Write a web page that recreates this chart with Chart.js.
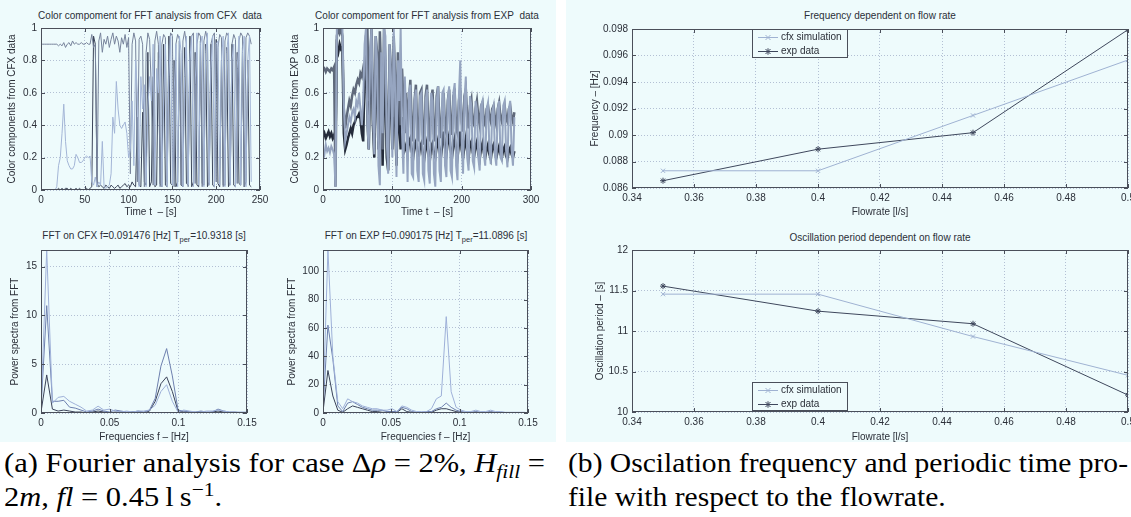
<!DOCTYPE html>
<html>
<head>
<meta charset="utf-8">
<script src="https://cdn.jsdelivr.net/npm/chart.js@4.4.0/dist/chart.umd.min.js"></script>
<style>
  body { margin:0; width:1131px; height:517px; overflow:hidden; background:#fff; position:relative;
         font-family:"Liberation Sans", Arial, sans-serif; }
  .panel { position:absolute; background:#eefbfc; }
  .plot { position:absolute; }
  .ttl { position:absolute; font-size:10px; line-height:12px; color:#2b2f38; white-space:nowrap; transform:translate(-50%, -50%); }
  .ttl sub { font-size:7.5px; vertical-align:-3px; line-height:0; }
  .cap { position:absolute; font-family:"Liberation Serif", Tinos, "Times New Roman", "Nimbus Roman", FreeSerif, "DejaVu Serif", serif;
         font-size:27px; line-height:34px; color:#000; white-space:nowrap; transform-origin:0 0; }
  .cap i { font-style:italic; }
  .cap sub { font-size:19px; vertical-align:-6px; line-height:0; }
  .cap sup { font-size:19px; vertical-align:10px; line-height:0; }
</style>
</head>
<body>
<div class="panel" style="left:0;top:0;width:556px;height:442px"></div>
<div class="panel" style="left:566px;top:0;width:565px;height:442px"></div>

<div class="ttl" style="left:150px;top:16px">Color compoment for FFT analysis from CFX&nbsp; data</div>
<div class="ttl" style="left:427px;top:16px">Color compoment for FFT analysis from EXP&nbsp; data</div>
<div class="ttl" style="left:144px;top:236px">FFT on CFX f=0.091476 [Hz] T<sub>per</sub>=10.9318 [s]</div>
<div class="ttl" style="left:426px;top:236px">FFT on EXP f=0.090175 [Hz] T<sub>per</sub>=11.0896 [s]</div>
<div class="ttl" style="left:880px;top:16px">Frequency dependent on flow rate</div>
<div class="ttl" style="left:880px;top:238px">Oscillation period dependent on flow rate</div>

<div class="cap capA" style="left:4px;top:446px">(a) Fourier analysis for case &Delta;<i>&rho;</i> = 2%, <i>H<sub>fill</sub></i> =</div>
<div class="cap capA2" style="left:4px;top:480px">2<i>m</i>, <i>fl</i> = 0.45&thinsp;l&thinsp;s<sup>&minus;1</sup>.</div>
<div class="cap capB" style="left:568px;top:446px">(b) Oscilation frequency and periodic time pro-</div>
<div class="cap capB2" style="left:568px;top:480px">file with respect to the flowrate.</div>

<script>
// ---- time signals, one sample every 2 s ----
const cfxDt = 2;
const cfxA = [
  0.90,0.90,0.90,0.90,0.90, 0.90,0.90,0.90,0.90,0.90, 0.89,0.90,0.89,0.91,0.88, 0.90,0.91,0.89,0.92,0.90,
  0.91,0.90,0.90,0.91,0.90, 0.90,0.91,0.90,0.90,0.96, 0.88,0.90,0.02,0.92,0.97, 0.85,0.93,0.90,0.95,0.88,
  0.93,0.97,0.90,0.95,0.92, 0.85,0.94,0.90,0.96,0.88, 0.94,0.10,0.90,0.97,0.92, 0.05,0.93,0.95,0.90,0.02,
  0.85,0.97,0.93,0.60,0.03, 0.92,0.98,0.90,0.02,0.90, 0.96,0.94,0.05,0.88,0.97, 0.95,0.02,0.90,0.96,0.93,
  0.03,0.92,0.98,0.90,0.02, 0.85,0.95,0.97,0.04,0.90, 0.97,0.95,0.02,0.92,0.98, 0.93,0.03,0.90,0.95,0.97,
  0.05,0.88,0.96,0.94,0.02, 0.92,0.97,0.95,0.03,0.90, 0.96,0.93,0.04,0.92,0.97, 0.95,0.02,0.94,0.97,0.95,
  0.90
];
const cfxB = [
  0,0,0,0,0, 0,0,0,0,0.02, 0.15,0.20,0.35,0.53,0.30, 0.18,0.15,0.13,0.13,0.15,
  0.22,0.20,0.17,0.17,0.18, 0.20,0.21,0.20,0.21,0.05, 0.03,0.08,0.02,0.05,0.03, 0.30,0.02,0.01,0.02,0.03,
  0.10,0.45,0.35,0.67,0.50, 0.40,0.38,0.40,0.42,0.35, 0.20,0.25,0.55,0.15,0.80, 0.60,0.02,0.70,0.50,0.65,
  0.02,0.50,0.70,0.55,0.90, 0.03,0.75,0.60,0.95,0.02, 0.55,0.90,0.02,0.70,0.95, 0.03,0.60,0.90,0.02,0.95,
  0.85,0.02,0.70,0.95,0.03, 0.80,0.95,0.02,0.65,0.97, 0.03,0.90,0.95,0.02,0.85, 0.97,0.03,0.75,0.95,0.02,
  0.90,0.92,0.03,0.80,0.95, 0.02,0.85,0.97,0.03,0.80, 0.90,0.02,0.75,0.95,0.03, 0.85,0.95,0.02,0.80,0.95,
  0.05
];
const cfxC = [
  0,0,0,0,0, 0,0,0,0,0, 0.01,0,0.01,0,0.01, 0.01,0,0.01,0,0,
  0.01,0,0.01,0,0, 0,0.01,0,0.01,0.02, 0.95,0.90,0.04,0.02,0.03, 0.02,0.01,0.03,0.02,0.01,
  0.03,0.02,0.01,0.02,0.03, 0.01,0.02,0.03,0.04,0.02, 0.03,0.02,0.05,0.03,0.02, 0.45,0.03,0.02,0.48,0.05,
  0.03,0.85,0.02,0.05,0.70, 0.02,0.03,0.85,0.04,0.02, 0.90,0.03,0.02,0.95,0.04, 0.03,0.80,0.02,0.05,0.92,
  0.03,0.02,0.88,0.04,0.03, 0.95,0.02,0.05,0.85,0.03, 0.02,0.92,0.04,0.03,0.90, 0.02,0.05,0.90,0.03,0.02,
  0.93,0.04,0.02,0.80,0.03, 0.03,0.88,0.02,0.05,0.90, 0.03,0.02,0.85,0.04,0.03, 0.88,0.02,0.05,0.80,0.03,
  0.02
];

const expDt = 2;
const expM = [
  0.74,0.75,0.73,0.75,0.74, 0.73,0.75,0.74,0.76,0.02, 0.95,1.00,0.97,1.00,0.95, 0.50,0.38,0.45,0.50,0.55,
  0.52,0.58,0.62,0.60,0.65, 0.68,0.66,0.72,0.70,0.75, 0.72,0.95,1.00,0.55,0.80, 1.00,0.60,0.35,0.95,0.85,
  0.30,0.98,0.70,0.25,1.00, 0.80,0.40,0.20,0.90,0.75, 0.45,0.95,0.70,0.25,0.85, 0.60,0.40,0.75,0.55,0.35,
  0.60,0.35,0.55,0.68,0.40, 0.30,0.55,0.65,0.35,0.30, 0.60,0.62,0.35,0.28,0.58, 0.65,0.38,0.30,0.55,0.62,
  0.35,0.30,0.58,0.64,0.40, 0.32,0.52,0.60,0.38,0.35, 0.55,0.62,0.40,0.34,0.58, 0.60,0.38,0.35,0.55,0.62,
  0.42,0.36,0.58,0.62,0.45, 0.38,0.52,0.56,0.42,0.40, 0.50,0.55,0.45,0.40,0.52, 0.54,0.42,0.40,0.50,0.52,
  0.45,0.42,0.50,0.52,0.44, 0.40,0.50,0.54,0.45,0.42, 0.48,0.52,0.44,0.42,0.50, 0.52,0.45,0.42,0.48
];
const expD = [
  0.33,0.35,0.32,0.34,0.36, 0.33,0.35,0.32,0.34,0.30, 0.88,0.85,0.90,0.87,0.88, 0.35,0.25,0.28,0.32,0.35,
  0.38,0.35,0.40,0.42,0.45, 0.45,0.47,0.44,0.35,0.30, 0.75,0.85,0.45,0.25,0.70, 0.80,0.40,0.20,0.75,0.65,
  0.25,0.80,0.55,0.15,0.75, 0.60,0.20,0.12,0.70,0.55, 0.25,0.65,0.45,0.15,0.55, 0.40,0.25,0.45,0.30,0.25,
  0.28,0.22,0.30,0.32,0.24, 0.20,0.28,0.30,0.22,0.20, 0.27,0.29,0.22,0.19,0.26, 0.30,0.22,0.18,0.27,0.29,
  0.22,0.20,0.27,0.31,0.24, 0.20,0.28,0.36,0.26,0.22, 0.30,0.34,0.25,0.20,0.28, 0.32,0.24,0.20,0.28,0.36,
  0.25,0.20,0.27,0.32,0.24, 0.20,0.28,0.30,0.23,0.21, 0.27,0.30,0.22,0.19,0.26, 0.29,0.23,0.20,0.25,0.28,
  0.22,0.19,0.26,0.28,0.23, 0.20,0.24,0.27,0.22,0.20, 0.25,0.27,0.21,0.19,0.24, 0.26,0.22,0.20,0.24
];
const expL = [
  0.25,0.22,0.28,0.24,0.26, 0.23,0.27,0.25,0.22,0.02, 1.00,1.00,1.00,1.00,1.00, 0.55,0.30,0.35,0.40,0.45,
  0.42,0.48,0.50,0.45,0.55, 0.52,0.60,0.50,0.40,0.55, 0.90,1.00,0.40,0.25,0.85, 1.00,0.45,0.22,0.95,0.80,
  0.15,0.03,0.85,0.35,1.00, 0.95,0.30,0.10,0.90,0.70, 0.20,1.00,0.60,0.08,0.80, 0.55,1.00,0.35,0.10,0.70,
  0.45,0.05,0.60,0.65,0.10, 0.08,0.55,0.62,0.12,0.05, 0.58,0.60,0.10,0.06,0.55, 0.62,0.12,0.04,0.60,0.55,
  0.10,0.02,0.55,0.64,0.12, 0.05,0.60,0.62,0.15,0.08, 0.55,0.64,0.12,0.08,0.60, 0.66,0.15,0.06,0.58,0.80,
  0.30,0.10,0.55,0.70,0.20, 0.12,0.58,0.52,0.18,0.14, 0.55,0.50,0.20,0.12,0.52, 0.55,0.22,0.15,0.50,0.54,
  0.25,0.16,0.48,0.52,0.22, 0.15,0.50,0.55,0.20,0.18, 0.52,0.55,0.25,0.14,0.50, 0.55,0.25,0.15,0.45
];

// ---- power spectra, one bin every df Hz ----
const fftCfxDf = 0.004158;
const fftCfx1 = [0.3,16.7,1.0,1.6,1.7,1.2,0.9,0.6,0.2,0.3,0.7,0.3,0.4,0.2,0.1,0.2,0.1,0.2,0.2,0.3,0.8,2.2,2.9,1.2,0.1,0.3,0.2,0.1,0.1,0.2,0.2,0.3,0.2,0.1,0.1,0.1,0.1];
const fftCfx2 = [0.5,11.0,1.2,1.2,1.3,0.6,0.5,0.3,0.1,0.2,0.4,0.2,0.1,0.3,0.2,0.1,0.1,0.2,0.1,0.3,1.5,4.8,6.6,3.8,0.3,0.2,0.1,0.1,0.2,0.1,0.1,0.4,0.2,0.1,0.1,0.0,0.0];
const fftCfx3 = [0.1,3.9,0.4,0.2,0.3,0.2,0.1,0.1,0.0,0.1,0.2,0.1,0.0,0.1,0.1,0.0,0.1,0.1,0.0,0.2,1.2,3.0,3.7,2.2,0.2,0.1,0.1,0.0,0.1,0.0,0.1,0.2,0.1,0.0,0.0,0.0,0.0];

const fftExpDf = 0.003607;
const fftExp1 = [5,115,40,8,3,10,8,7,5,4,3,3,2,2,3,1,5,4,2,1,1,1,3,10,12,68,15,4,2,1,1,2,1,1,2,1,1,0.5,0.5,0.5,0.5,0.5];
const fftExp2 = [3,62,38,5,1,7,8,6,4,3,2,2,2,1,1,1,4,3,1,0.5,0.5,1,1,3,4,7,4,2,1,0.5,0.5,1,0.5,0.5,1,0.5,0.5,0.3,0.3,0.3,0.3,0.3];
const fftExp3 = [1,30,12,2,0.5,3,5,4,3,2,1,1,0.5,0.5,1,0.5,3,1,0.5,0.3,0.3,0.5,0.5,2,3,3,2,1,0.5,0.3,0.3,0.5,0.3,0.3,0.5,0.3,0.3,0.2,0.2,0.2,0.2,0.2];

// ---- frequency / period vs flowrate ----
const flowrate = [0.35, 0.40, 0.45, 0.50];
const freqCfx = [0.08730, 0.08730, 0.091476, 0.09566];
const freqExp = [0.08655, 0.08893, 0.090175, 0.09795];
const periodCfx = [11.455, 11.455, 10.9318, 10.453];
const periodExp = [11.554, 11.245, 11.0896, 10.209];

// ---- ticks ----
const timeTicksCfx = [0, 50, 100, 150, 200, 250];
const timeTicksExp = [0, 100, 200, 300];
const unitTicks = [0, 0.2, 0.4, 0.6, 0.8, 1];
const unitLabels = ['0', '0.2', '0.4', '0.6', '0.8', '1'];
const fTicks = [0, 0.05, 0.1, 0.15];
const fLabels = ['0', '0.05', '0.1', '0.15'];
const powCfxTicks = [0, 5, 10, 15];
const powExpTicks = [0, 20, 40, 60, 80, 100];
const flowTicks = [0.34, 0.36, 0.38, 0.40, 0.42, 0.44, 0.46, 0.48, 0.50];
const flowLabels = ['0.34', '0.36', '0.38', '0.4', '0.42', '0.44', '0.46', '0.48', '0.5'];
const freqTicks = [0.086, 0.088, 0.090, 0.092, 0.094, 0.096, 0.098];
const freqLabels = ['0.086', '0.088', '0.09', '0.092', '0.094', '0.096', '0.098'];
const periodTicks = [10, 10.5, 11, 11.5, 12];
const periodLabels = ['10', '10.5', '11', '11.5', '12'];

const BG = '#eefbfc';
const INK = '#2b2f38';
const FRAME = '#4a4f5a';
const GRID = '#b3c0d4';
const FONT = '"Liberation Sans", Arial, sans-serif';

Chart.defaults.font.family = FONT;
Chart.defaults.animation = false;

// MATLAB style box with inward ticks on all four sides
const frameBox = {
  id: 'frameBox',
  afterDraw(chart) {
    const { ctx, chartArea: a, scales } = chart;
    ctx.save();
    ctx.strokeStyle = FRAME;
    ctx.lineWidth = 1;
    ctx.beginPath();
    scales.x.ticks.forEach(t => {
      const p = Math.round(scales.x.getPixelForValue(t.value)) + 0.5;
      ctx.moveTo(p, a.bottom); ctx.lineTo(p, a.bottom - 4);
      ctx.moveTo(p, a.top); ctx.lineTo(p, a.top + 4);
    });
    scales.y.ticks.forEach(t => {
      const p = Math.round(scales.y.getPixelForValue(t.value)) + 0.5;
      ctx.moveTo(a.left, p); ctx.lineTo(a.left + 4, p);
      ctx.moveTo(a.right, p); ctx.lineTo(a.right - 4, p);
    });
    ctx.stroke();
    ctx.strokeRect(Math.round(a.left) + 0.5, Math.round(a.top) + 0.5, Math.round(a.width) - 1, Math.round(a.height) - 1);
    ctx.restore();
  }
};

function drawMarker(ctx, style, x, y, r) {
  ctx.beginPath();
  ctx.moveTo(x - r, y - r); ctx.lineTo(x + r, y + r);
  ctx.moveTo(x - r, y + r); ctx.lineTo(x + r, y - r);
  if (style === 'star') {
    ctx.moveTo(x - r * 1.3, y); ctx.lineTo(x + r * 1.3, y);
    ctx.moveTo(x, y - r * 1.3); ctx.lineTo(x, y + r * 1.3);
  }
  ctx.stroke();
}

const insideLegend = {
  id: 'insideLegend',
  afterDraw(chart, args, o) {
    if (!o || !o.box) return;
    const ctx = chart.ctx;
    const bx = o.box.x - o.origin.x, by = o.box.y - o.origin.y;
    ctx.save();
    ctx.fillStyle = BG;
    ctx.fillRect(bx, by, o.box.w, o.box.h);
    ctx.strokeStyle = FRAME;
    ctx.lineWidth = 1;
    ctx.strokeRect(bx + 0.5, by + 0.5, o.box.w, o.box.h);
    chart.data.datasets.forEach((ds, i) => {
      const cy = by + 8.5 + i * 14;
      ctx.strokeStyle = ds.borderColor;
      ctx.beginPath(); ctx.moveTo(bx + 6, cy); ctx.lineTo(bx + 26, cy); ctx.stroke();
      drawMarker(ctx, ds.pointStyle, bx + 16, cy, 2.5);
      ctx.fillStyle = INK;
      ctx.font = '10px ' + FONT;
      ctx.textBaseline = 'middle';
      ctx.fillText(ds.label, bx + 29, cy);
    });
    ctx.restore();
  }
};
Chart.register(frameBox, insideLegend);

function axis(min, max, ticks, labels, title, titlePad) {
  return {
    type: 'linear', min, max,
    afterBuildTicks: s => { s.ticks = ticks.map(v => ({ value: v })); },
    grid: { color: GRID, drawTicks: false, lineWidth: 1 },
    border: { display: false, dash: [1, 2] },
    ticks: { color: INK, font: { size: 10 }, padding: 4, maxRotation: 0, autoSkip: false,
             callback: (v, i) => labels ? labels[i] : String(v) },
    title: { display: true, text: title, color: INK, font: { size: 10 }, padding: titlePad }
  };
}

function series(values, step) {
  return values.map((y, i) => ({ x: i * step, y }));
}

function line(label, data, color, width) {
  return { label, data, borderColor: color, backgroundColor: color, borderWidth: width,
           pointRadius: 0, tension: 0 };
}

function makePlot(cont, area, datasets, xAxis, yAxis, legend) {
  const div = document.createElement('div');
  div.className = 'plot';
  Object.assign(div.style, { left: cont.x + 'px', top: cont.y + 'px', width: cont.w + 'px', height: cont.h + 'px' });
  const cv = document.createElement('canvas');
  div.appendChild(cv);
  document.body.appendChild(div);
  xAxis.afterFit = s => { s.height = cont.y + cont.h - area.bottom; };
  yAxis.afterFit = s => { s.width = area.left - cont.x; };
  new Chart(cv, {
    type: 'line',
    data: { datasets },
    options: {
      responsive: true, maintainAspectRatio: false, animation: false,
      layout: { padding: { left: 0, top: area.top - cont.y, right: cont.x + cont.w - area.right, bottom: 0 } },
      scales: { x: xAxis, y: yAxis },
      plugins: {
        legend: { display: false }, tooltip: { enabled: false },
        insideLegend: legend ? { box: legend, origin: cont } : {}
      }
    }
  });
}

// top left: CFX colour components
makePlot({ x: 0, y: 8, w: 275, h: 212 }, { left: 41, top: 28, right: 260, bottom: 190 }, [
  line('c1', series(cfxB, cfxDt), '#a3b5d6', 1),
  line('c2', series(cfxA, cfxDt), '#77839b', 1),
  line('c3', series(cfxC, cfxDt), '#3b4458', 1)
], axis(0, 250, timeTicksCfx, null, 'Time t  \u2013 [s]', { top: 0, bottom: 2 }),
   axis(0, 1, unitTicks, unitLabels, 'Color components from CFX data', { top: 6, bottom: 0 }));

// top middle: EXP colour components
makePlot({ x: 283, y: 8, w: 265, h: 212 }, { left: 323, top: 28, right: 531, bottom: 190 }, [
  line('e1', series(expL, expDt), '#96a5c0', 2),
  line('e2', series(expM, expDt), '#5f697b', 2.5),
  line('e3', series(expD, expDt), '#242b3a', 2.5)
], axis(0, 300, timeTicksExp, null, 'Time t  \u2013 [s]', { top: 0, bottom: 2 }),
   axis(0, 1, unitTicks, unitLabels, 'Color components from EXP data', { top: 6, bottom: 0 }));

// bottom left: FFT of CFX
makePlot({ x: 0, y: 235, w: 262, h: 210 }, { left: 41, top: 250, right: 247, bottom: 413 }, [
  line('f1', series(fftCfx1, fftCfxDf), '#9eb0d8', 1),
  line('f2', series(fftCfx2, fftCfxDf), '#6d7fae', 1),
  line('f3', series(fftCfx3, fftCfxDf), '#3a4258', 1)
], axis(0, 0.15, fTicks, fLabels, 'Frequencies f \u2013 [Hz]', { top: 0, bottom: 2 }),
   axis(0, 16.7, powCfxTicks, null, 'Power spectra from FFT', { top: 9, bottom: 0 }));

// bottom middle: FFT of EXP
makePlot({ x: 283, y: 235, w: 260, h: 210 }, { left: 323, top: 250, right: 528, bottom: 413 }, [
  line('g1', series(fftExp1, fftExpDf), '#9eb0d8', 1),
  line('g2', series(fftExp2, fftExpDf), '#6d7fae', 1),
  line('g3', series(fftExp3, fftExpDf), '#3a4258', 1)
], axis(0, 0.15, fTicks, fLabels, 'Frequencies f \u2013 [Hz]', { top: 0, bottom: 2 }),
   axis(0, 115, powExpTicks, null, 'Power spectra from FFT', { top: 3, bottom: 0 }));

function marked(label, xs, ys, color, style) {
  return { label, data: xs.map((x, i) => ({ x, y: ys[i] })), borderColor: color, backgroundColor: color,
           borderWidth: 1, pointStyle: style, pointRadius: 3, pointBorderWidth: 1, tension: 0 };
}

// right top: frequency vs flowrate
makePlot({ x: 585, y: 8, w: 570, h: 212 }, { left: 632, top: 29, right: 1128, bottom: 188 }, [
  marked('cfx simulation', flowrate, freqCfx, '#9fb2d2', 'crossRot'),
  marked('exp data', flowrate, freqExp, '#3e475c', 'star')
], axis(0.34, 0.5, flowTicks, flowLabels, 'Flowrate [l/s]', { top: 0, bottom: 2 }),
   axis(0.086, 0.098, freqTicks, freqLabels, 'Frequency \u2013 [Hz]', { top: 4, bottom: 0 }),
   { x: 752, y: 29, w: 95, h: 28 });

// right bottom: period vs flowrate
makePlot({ x: 585, y: 235, w: 570, h: 210 }, { left: 632, top: 250, right: 1128, bottom: 412 }, [
  marked('cfx simulation', flowrate, periodCfx, '#9fb2d2', 'crossRot'),
  marked('exp data', flowrate, periodExp, '#3e475c', 'star')
], axis(0.34, 0.5, flowTicks, flowLabels, 'Flowrate [l/s]', { top: 0, bottom: 2 }),
   axis(10, 12, periodTicks, periodLabels, 'Oscillation period \u2013 [s]', { top: 9, bottom: 0 }),
   { x: 752, y: 382, w: 95, h: 28 });

// stretch the caption lines to the printed widths
function fitCaption(first, second, width) {
  const a = document.querySelector(first), b = document.querySelector(second);
  const k = width / a.getBoundingClientRect().width;
  a.style.transform = b.style.transform = 'scaleX(' + k + ')';
}
fitCaption('.capA', '.capA2', 541);
fitCaption('.capB', '.capB2', 560);
</script>
</body>
</html>
